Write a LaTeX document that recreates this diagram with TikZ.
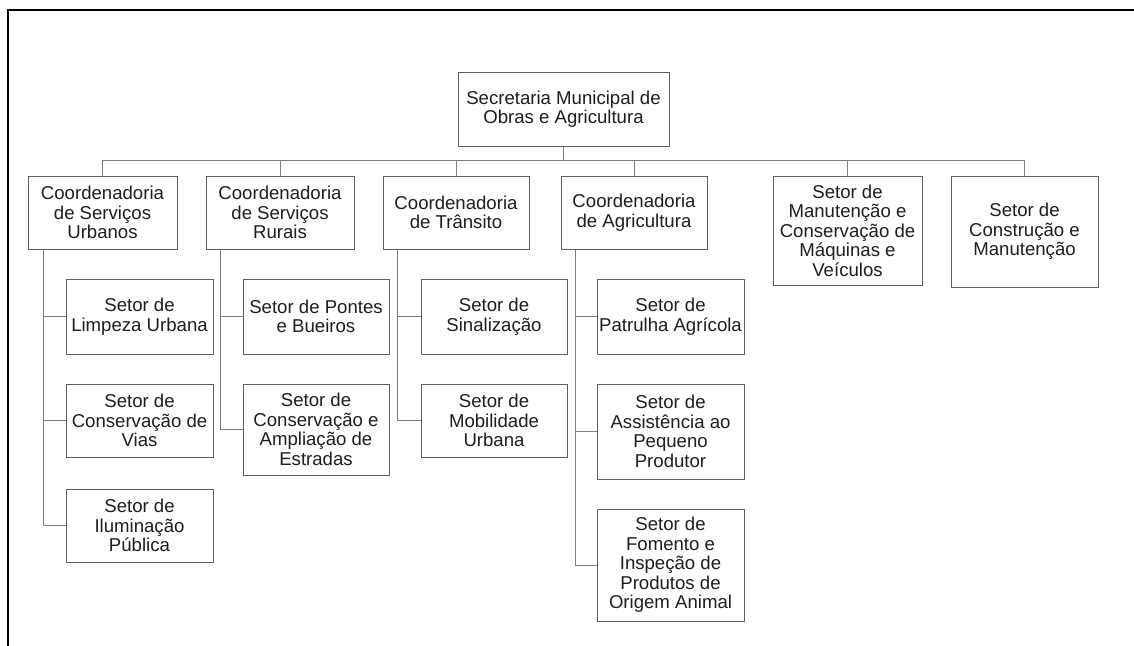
\documentclass[tikz,border=0pt]{standalone}
\usepackage{fontspec}
\setmainfont{Liberation Sans}
\definecolor{boxgray}{RGB}{95,95,95}
\definecolor{linegray}{RGB}{125,125,125}
\definecolor{txt}{RGB}{30,30,30}
\begin{document}
\begin{tikzpicture}[x=1pt,y=-1pt,
  box/.style={draw=boxgray, line width=1pt, fill=white, align=center, inner sep=0pt,
    text=txt, font=\fontsize{18.6}{19.5}\selectfont},
  link/.style={draw=linegray, line width=1pt}]
\useasboundingbox (0,0) rectangle (1134,645);
\draw[line width=2.5pt] (8,650) -- (8,10) -- (1140,10);

\node[box, minimum width=211pt, minimum height=74pt] (top) at (563.5,109) {Secretaria Municipal de\\Obras e Agricultura};

\node[box, minimum width=149pt, minimum height=73pt] (c1) at (102.5,212.5) {Coordenadoria\\de Serviços\\Urbanos};
\node[box, minimum width=148pt, minimum height=73pt] (c2) at (280,212.5) {Coordenadoria\\de Serviços\\Rurais};
\node[box, minimum width=146pt, minimum height=73pt] (c3) at (456,212.5) {Coordenadoria\\de Trânsito};
\node[box, minimum width=146pt, minimum height=73pt] (c4) at (634,212.5) {Coordenadoria\\de Agricultura};
\node[box, minimum width=149pt, minimum height=109pt] (c5) at (847.5,230.5) {Setor de\\Manutenção e\\Conservação de\\Máquinas e\\Veículos};
\node[box, minimum width=147pt, minimum height=111pt] (c6) at (1024.5,231.5) {Setor de\\Construção e\\Manutenção};

\node[box, minimum width=147pt, minimum height=75pt] (s11) at (139.5,316.5) {Setor de\\Limpeza Urbana};
\node[box, minimum width=147pt, minimum height=73pt] (s12) at (139.5,420.5) {Setor de\\Conservação de\\Vias};
\node[box, minimum width=147pt, minimum height=73pt] (s13) at (139.5,525.5) {Setor de\\Iluminação\\Pública};

\node[box, minimum width=146pt, minimum height=75pt] (s21) at (316,316.5) {Setor de Pontes\\e Bueiros};
\node[box, minimum width=146pt, minimum height=91pt] (s22) at (316,429.5) {Setor de\\Conservação e\\Ampliação de\\Estradas};

\node[box, minimum width=146pt, minimum height=75pt] (s31) at (494,316.5) {Setor de\\Sinalização};
\node[box, minimum width=146pt, minimum height=73pt] (s32) at (494,420.5) {Setor de\\Mobilidade\\Urbana};

\node[box, minimum width=147pt, minimum height=75pt] (s41) at (670.5,316.5) {Setor de\\Patrulha Agrícola};
\node[box, minimum width=147pt, minimum height=95pt] (s42) at (670.5,431.5) {Setor de\\Assistência ao\\Pequeno\\Produtor};
\node[box, minimum width=147pt, minimum height=112pt] (s43) at (670.5,565) {Setor de\\Fomento e\\Inspeção de\\Produtos de\\Origem Animal};

% top-level bus
\draw[link] (top.south) -- ++(0,14) coordinate (hub);
\foreach \c in {c1,c2,c3,c4,c5,c6} \draw[link] (hub) -| (\c.north);

% spines
\path (c1.south west) ++(16,0) coordinate (sp1);
\path (c2.south west) ++(15,0) coordinate (sp2);
\path (c3.south west) ++(15,0) coordinate (sp3);
\path (c4.south west) ++(15,0) coordinate (sp4);
\foreach \s in {s11,s12,s13} \draw[link] (sp1) |- (\s.west);
\foreach \s in {s21,s22} \draw[link] (sp2) |- (\s.west);
\foreach \s in {s31,s32} \draw[link] (sp3) |- (\s.west);
\foreach \s in {s41,s42,s43} \draw[link] (sp4) |- (\s.west);
\end{tikzpicture}
\end{document}
